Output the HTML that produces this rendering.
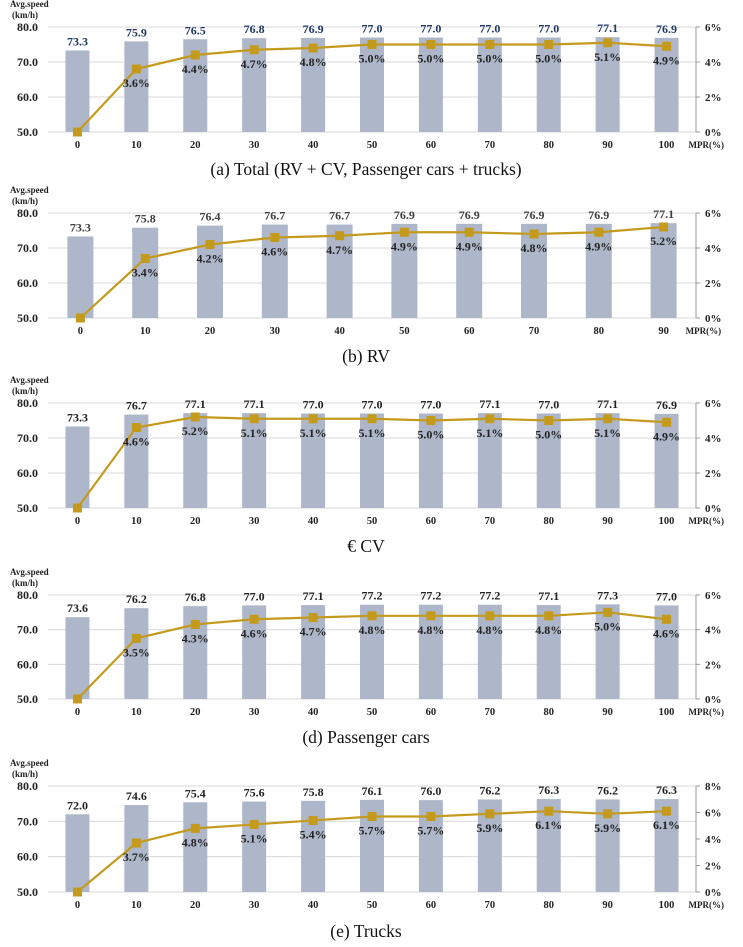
<!DOCTYPE html>
<html><head><meta charset="utf-8">
<style>
html,body{margin:0;padding:0;background:#fff;}
svg{display:block;font-family:"Liberation Serif",serif;}
</style></head>
<body>
<svg id="c" width="743" height="947" viewBox="0 0 743 947"></svg>
<script>
const catsA = ["0","10","20","30","40","50","60","70","80","90","100"];
const speedA = [73.3,75.9,76.5,76.8,76.9,77.0,77.0,77.0,77.0,77.1,76.9];
const pctA = [0,3.6,4.4,4.7,4.8,5.0,5.0,5.0,5.0,5.1,4.9];
const catsB = ["0","10","20","30","40","50","60","70","80","90"];
const speedB = [73.3,75.8,76.4,76.7,76.7,76.9,76.9,76.9,76.9,77.1];
const pctB = [0,3.4,4.2,4.6,4.7,4.9,4.9,4.8,4.9,5.2];
const catsC = ["0","10","20","30","40","50","60","70","80","90","100"];
const speedC = [73.3,76.7,77.1,77.1,77.0,77.0,77.0,77.1,77.0,77.1,76.9];
const pctC = [0,4.6,5.2,5.1,5.1,5.1,5.0,5.1,5.0,5.1,4.9];
const catsD = ["0","10","20","30","40","50","60","70","80","90","100"];
const speedD = [73.6,76.2,76.8,77.0,77.1,77.2,77.2,77.2,77.1,77.3,77.0];
const pctD = [0,3.5,4.3,4.6,4.7,4.8,4.8,4.8,4.8,5.0,4.6];
const catsE = ["0","10","20","30","40","50","60","70","80","90","100"];
const speedE = [72.0,74.6,75.4,75.6,75.8,76.1,76.0,76.2,76.3,76.2,76.3];
const pctE = [0,3.7,4.8,5.1,5.4,5.7,5.7,5.9,6.1,5.9,6.1];
const leftTicks = [50,60,70,80];
const rightTicks6 = [0,2,4,6];
const rightTicks8 = [0,2,4,6,8];

const NS="http://www.w3.org/2000/svg";
const svg=document.getElementById('c');
function mk(tag,attrs,parent,text){const e=document.createElementNS(NS,tag);for(const k in attrs)e.setAttribute(k,attrs[k]);if(text!==undefined)e.textContent=text;(parent||svg).appendChild(e);return e;}

function chart(id,top,bottom,cats,speeds,pcts,rTicks,rMax,caption,capY,valColor){
  const g=mk('g',{});
  
  
  const x0=48,x1=696;
  const slot=(x1-x0)/cats.length;
  const xs=i=>x0+slot*(i+0.5);
  const yL=v=>bottom-(v-50)/30*(bottom-top);
  const yR=v=>bottom-v/rMax*(bottom-top);
  const bw=cats.length===10?26:24;
  leftTicks.forEach(t=>{
    const l=mk('line',{x1:x0,x2:x1,y1:yL(t),y2:yL(t),stroke:'#d9d9d9','stroke-width':1},g);
    
    
    const tx=mk('text',{x:38,y:yL(t)+4,'text-anchor':'end','font-size':12,'font-weight':'bold',fill:'#222'},g,t.toFixed(1));
    
    
  });
  const ax=mk('line',{x1:x1,x2:x1,y1:top,y2:bottom,stroke:'#999','stroke-width':1},g);
  
  
  rTicks.forEach(t=>{
    mk('line',{x1:x1,x2:x1+4,y1:yR(t),y2:yR(t),stroke:'#999'},g);
    const tx=mk('text',{x:705,y:yR(t)+4,'font-size':11,'font-weight':'bold',fill:'#222'},g,t+'%');
    
    
  });
  const yt=mk('text',{x:10,y:top-20,'font-size':9,'font-weight':'bold',fill:'#222'},g,'Avg.speed');
  
  
  const yt2=mk('text',{x:12,y:top-9,'font-size':9,'font-weight':'bold',fill:'#222'},g,'(km/h)');
  
  
  speeds.forEach((v,i)=>{
    const b=mk('rect',{x:xs(i)-bw/2,y:yL(v),width:bw,height:bottom-yL(v),fill:'#adb7c9'},g);
    
    
    const t=mk('text',{x:xs(i),y:yL(v)-5,'text-anchor':'middle','font-size':12,'font-weight':'bold',fill:valColor},g,v.toFixed(1));
    
    
    const xl=mk('text',{x:xs(i),y:bottom+16,'text-anchor':'middle','font-size':10.5,'font-weight':'bold',fill:'#222'},g,cats[i]);
    
    
  });
  const pts=pcts.map((p,i)=>xs(i)+','+yR(p)).join(' ');
  const pl=mk('polyline',{points:pts,fill:'none',stroke:'#c49a1c','stroke-width':2.2},g);
  
  
  pcts.forEach((p,i)=>{
    const m=mk('rect',{x:xs(i)-4.5,y:yR(p)-4.5,width:9,height:9,fill:'#c49a1c'},g);
    
    
    if(i>0){
      const t=mk('text',{x:xs(i),y:yR(p)+18,'text-anchor':'middle','font-size':12,'font-weight':'bold',fill:'#222'},g,p.toFixed(1)+'%');
      
      
    }
  });
  const mp=mk('text',{x:xs(cats.length-1)+22,y:bottom+16,'font-size':9,'font-weight':'bold',fill:'#222'},g,'MPR(%)');
  
  
  const cp=mk('text',{x:366,y:capY,'text-anchor':'middle','font-size':17.5,fill:'#111'},g,caption);
  
  
}
chart('chart-total',27,132,catsA,speedA,pctA,rightTicks6,6,'(a) Total (RV + CV, Passenger cars + trucks)',175,'#1f3864');
chart('chart-rv',213,318,catsB,speedB,pctB,rightTicks6,6,'(b) RV',362,'#404040');
chart('chart-cv',403,508,catsC,speedC,pctC,rightTicks6,6,'€ CV',552,'#222');
chart('chart-passenger',595,699,catsD,speedD,pctD,rightTicks6,6,'(d) Passenger cars',743,'#222');
chart('chart-trucks',786,892,catsE,speedE,pctE,rightTicks8,8,'(e) Trucks',937,'#222');
</script>
</body></html>
